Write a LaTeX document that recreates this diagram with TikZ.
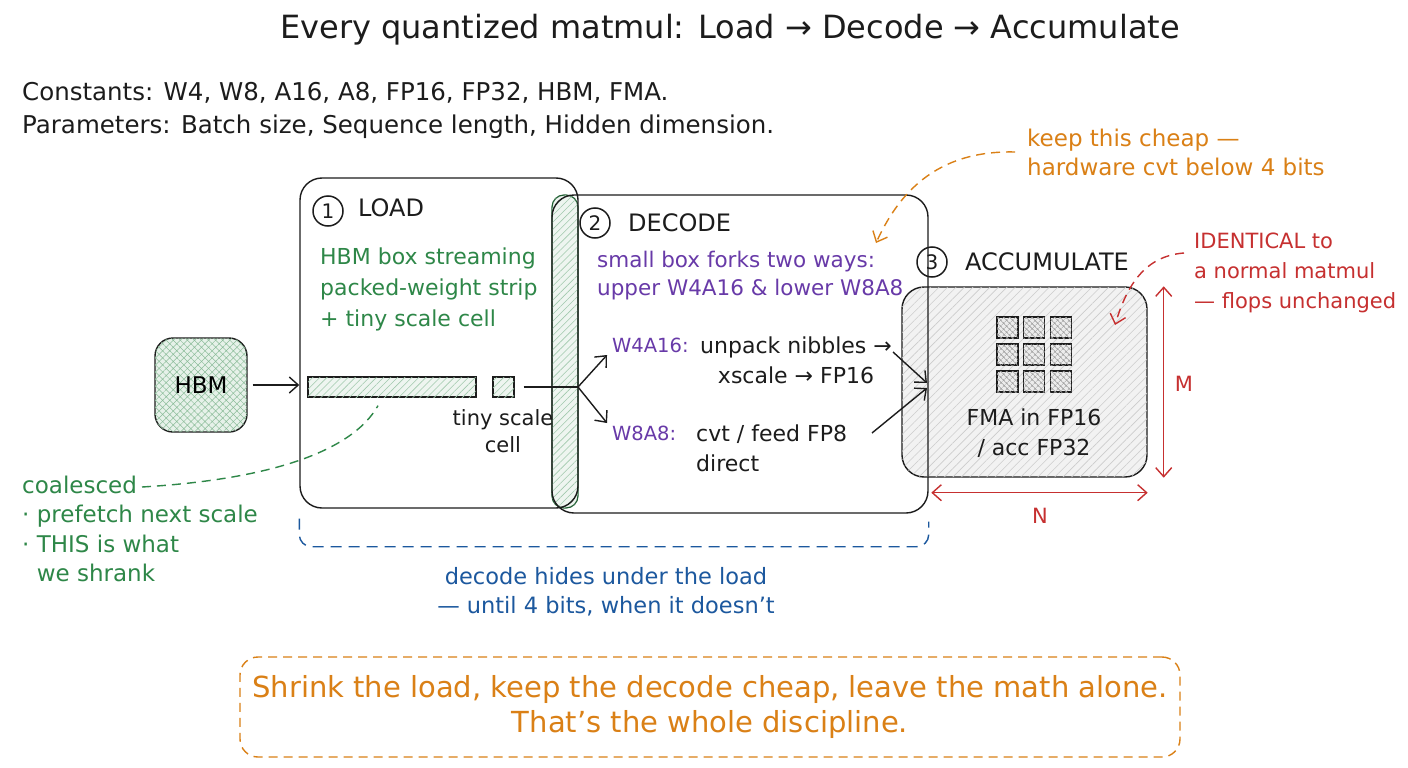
\documentclass[tikz,border=0pt]{standalone}
\usepackage{fontspec}
\setmainfont{DejaVu Sans}
\usetikzlibrary{arrows.meta,patterns,patterns.meta}
\definecolor{cgreen}{RGB}{46,135,72}
\definecolor{cpurple}{RGB}{104,58,168}
\definecolor{corange}{RGB}{218,128,22}
\definecolor{cred}{RGB}{198,48,48}
\definecolor{cblue}{RGB}{28,88,158}
\definecolor{cink}{RGB}{28,28,28}
\newcommand{\fs}[2]{\fontsize{#1}{#2}\selectfont}
\tikzset{
  body/.style={font=\fs{21}{30}, inner sep=0pt, align=left, text=cink},
  head/.style={font=\fs{24}{26}, inner sep=0pt, anchor=west, text=cink},
  numc/.style={circle, draw=cink, line width=1.5pt, minimum size=30pt, inner sep=0pt, font=\fs{20}{22}, text=cink},
  box/.style={draw=cink, line width=1.4pt, rounded corners=22pt, inner sep=0pt},
  arr/.style={-{Straight Barb[length=9pt,width=16pt]}, line width=1.4pt, draw=cink},
  redarr/.style={{Straight Barb[length=9pt,width=16pt]}-{Straight Barb[length=9pt,width=16pt]}, line width=1.4pt, draw=cred},
  dashline/.style={dash pattern=on 9pt off 6pt, line width=1.4pt},
  greenhatch/.style={fill=cgreen!8, postaction={pattern={Lines[angle=45,distance=5pt,line width=0.6pt]}, pattern color=cgreen!45}},
  greycross/.style={fill=gray!15, postaction={pattern={Hatch[angle=45,distance=4pt,line width=0.5pt]}, pattern color=gray!75}},
  gsq/.style={draw=cink, line width=1.3pt, minimum size=21pt, inner sep=0pt, greycross},
}
\begin{document}
\begin{tikzpicture}[x=1pt,y=-1pt]
\useasboundingbox (0,0) rectangle (1408,768);
\fill[white] (0,0) rectangle (1408,768);

% title and header text
\node[font=\fs{32}{36}, inner sep=0pt, text=cink] (title) at (730,30) {Every quantized matmul: Load → Decode → Accumulate};
\node[body, anchor=west, font=\fs{24.5}{30}] (consts) at (22,93) {Constants: W4, W8, A16, A8, FP16, FP32, HBM, FMA.};
\node[body, anchor=west, font=\fs{24.5}{30}] (params) at (22,127) {Parameters: Batch size, Sequence length, Hidden dimension.};

% accumulate box (drawn first so the decode border lies on top)
\node[box, fill=gray!10, postaction={pattern={Lines[angle=45,distance=6pt,line width=0.6pt]}, pattern color=gray!40}, minimum width=245pt, minimum height=190pt] (accum) at (1024.5,382) {};

% overlap band
\node[draw=cgreen!70!black, line width=1.2pt, rounded corners=12pt, greenhatch, minimum width=26pt, minimum height=313pt, inner sep=0pt] (band) at (565,351.5) {};

% main boxes
\node[box, minimum width=278pt, minimum height=330pt] (load) at (439,343) {};
\node[box, minimum width=376pt, minimum height=318pt] (decode) at (740,354) {};

% HBM
\node[box, rounded corners=18pt, fill=cgreen!12, postaction={pattern={Hatch[angle=45,distance=5pt,line width=0.5pt]}, pattern color=cgreen!55}, minimum width=92pt, minimum height=94pt, font=\fs{23}{24}] (hbm) at (201,385) {HBM};
\draw[arr] ([xshift=5pt]hbm.east) -- (hbm.east -| load.west);

% LOAD contents
\node[numc] (n1) at (328,211) {1};
\node[head] (loadh) at (358,208) {LOAD};
\node[body, anchor=west, text=cgreen, font=\fs{22}{31}] (loadtxt) at (320,289) {HBM box streaming\\packed-weight strip\\+ tiny scale cell};
\node[draw=cink, line width=1.3pt, greenhatch, minimum width=168pt, minimum height=20pt, inner sep=0pt] (strip) at (392,387) {};
\node[draw=cink, line width=1.3pt, greenhatch, minimum width=21pt, minimum height=20pt, inner sep=0pt] (cell) at (503.5,387) {};
\node[body, align=center, font=\fs{21}{27}] (tiny) at (503,431) {tiny scale\\cell};

% DECODE contents
\node[numc] (n2) at (595,223) {2};
\node[head] (decodeh) at (628,223) {DECODE};
\node[body, anchor=west, text=cpurple, font=\fs{21.5}{28}] (ptxt) at (597,276) {small box forks two ways:\\upper W4A16 \& lower W8A8};
\node[body, anchor=west, text=cpurple, font=\fs{19.5}{30}] (w4lab) at (612,345) {W4A16:};
\node[body, align=center, font=\fs{22}{30}] (w4txt) at (796,360) {unpack nibbles →\\xscale → FP16};
\node[body, anchor=west, text=cpurple, font=\fs{19.5}{30}] (w8lab) at (612,433) {W8A8:};
\node[body, anchor=west, font=\fs{22}{30}] (w8txt) at (696,448) {cvt / feed FP8\\direct};

\coordinate (fork) at (578,387);
\draw[line width=1.4pt, draw=cink] ([xshift=9pt]cell.east) -- (fork);
\draw[arr] (fork) -- ([shift={(-5pt,-10pt)}]w4lab.west);
\draw[arr] (fork) -- ([shift={(-5pt,10pt)}]w8lab.west);

\coordinate (s1) at (893,352);
\coordinate (s2) at (872,433);
\coordinate (t1) at (927,383);
\coordinate (t2) at (927,388);
\draw[arr] (s1) -- (t1);
\draw[arr] (s2) -- (t2);

% ACCUMULATE contents
\node[numc] (n3) at (932,262) {3};
\node[head] (accumh) at (965,262) {ACCUMULATE};
\foreach \r in {0,1,2}{
  \foreach \c in {0,1,2}{
    \node[gsq] (g\r\c) at (1007.5+26.7*\c, 327.5+27*\r) {};
  }
}
\node[body, align=center, font=\fs{22}{30}] (fma) at (1034,433) {FMA in FP16\\/ acc FP32};

% dimension arrows
\draw[redarr] ([xshift=16pt]accum.north east) -- ([xshift=16pt]accum.south east);
\node[body, text=cred] (mlab) at (1184,384) {M};
\draw[redarr] ([shift={(30pt,-15pt)}]accum.south west) -- ([yshift=-15pt]accum.south east);
\node[body, text=cred] (nlab) at (1040,516) {N};

% red annotation
\node[body, anchor=west, text=cred, font=\fs{21}{30}] (redtxt) at (1194,273) {IDENTICAL to\\a normal matmul\\— flops unchanged};
\coordinate (rstart) at (1184,253);
\draw[cred, dashline, -{Straight Barb[length=9pt,width=16pt]}] (rstart) .. controls (1145,256) and (1127,285) .. (1115,325);

% orange annotation
\node[body, anchor=west, text=corange, font=\fs{23}{29}] (oratxt) at (1027,152) {keep this cheap —\\hardware cvt below 4 bits};
\draw[corange, dashline, -{Straight Barb[length=9pt,width=16pt]}] ([xshift=-12pt]oratxt.west) .. controls (935,150) and (898,195) .. (876,243);

% blue bracket
\draw[cblue, dash pattern=on 11pt off 7pt, line width=1.4pt, rounded corners=12pt] ([yshift=-10pt]load.south west) -- ([yshift=-38pt]load.south west) -| ([yshift=-8pt]decode.south east);
\node[body, align=center, text=cblue, font=\fs{22.5}{29}] (bluetxt) at (606,592) {decode hides under the load\\— until 4 bits, when it doesn’t};

% green annotation
\node[body, anchor=west, text=cgreen, font=\fs{23}{29.5}] (greentxt) at (22,529) {coalesced\\· prefetch next scale\\· THIS is what\\\phantom{· }we shrank};
\coordinate (gstart) at (142,487);
\draw[cgreen, dashline] (gstart) .. controls (260,480) and (350,455) .. ([shift={(-14pt,-8pt)}]strip.south);

% bottom box
\node[draw=corange, dash pattern=on 9pt off 6pt, line width=1.4pt, rounded corners=18pt, minimum width=940pt, minimum height=100pt, align=center, text=corange, font=\fs{29}{35}] (bottom) at (710,707) {Shrink the load, keep the decode cheap, leave the math alone.\\That’s the whole discipline.};
\end{tikzpicture}
\end{document}
